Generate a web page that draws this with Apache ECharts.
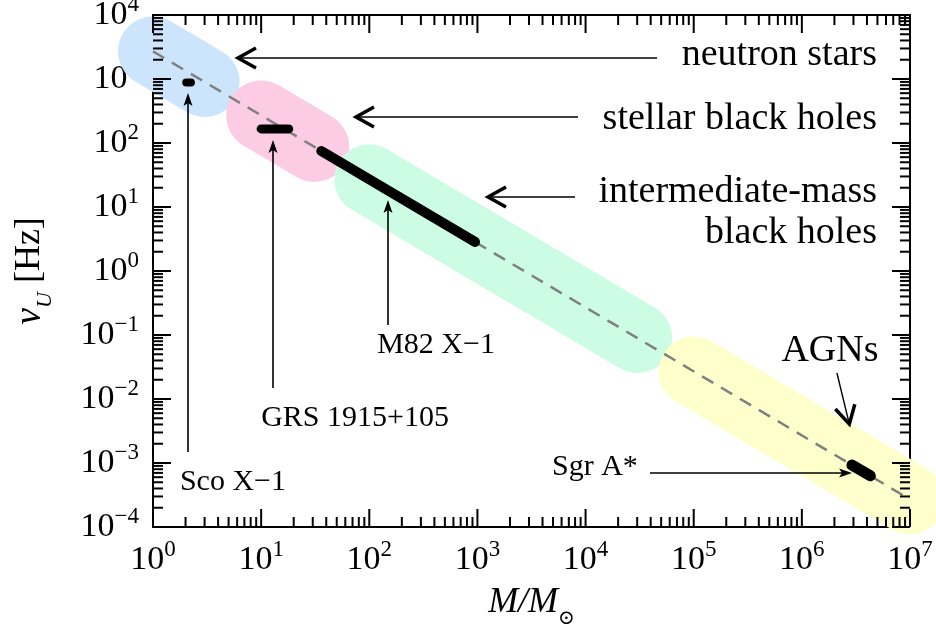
<!DOCTYPE html>
<html>
<head>
<meta charset="utf-8">
<script src="https://cdn.jsdelivr.net/npm/echarts@6/dist/echarts.min.js"></script>
<style>
  html, body { margin: 0; padding: 0; background: #fff; }
  #chart { width: 936px; height: 632px; }
</style>
</head>
<body>
<div id="chart"></div>
<script>
// QPO frequency vs mass (M in solar masses, nu in Hz)
const trendLine = [[1, 2700], [1e7, 2.7e-4]];
const neutronBand = [[1, 2700], [3, 900]];
const stellarBand = [[10, 270], [31, 87]];
const imbhBand = [[100, 27], [3e4, 0.09]];
const agnBand = [[1e5, 0.027], [1e7, 2.7e-4]];

const scoX1 = [[2.03, 880], [2.24, 880]];
const grs1915 = [[10, 166], [18, 166]];
const m82X1 = [[36, 75], [950, 2.85]];
const sgrA = [[2.9e6, 9.3e-4], [4.3e6, 6.3e-4]];

// annotation arrows (tail -> tip) and their heads
const arrowFrom = [[4.58e4, 2130], [8510, 255], [7990, 14.3], [2.11e6, 0.0255],
                   [2.107, 1.49e-3], [12.87, 0.0149], [149, 0.143], [3.94e4, 6.98e-4]];
const arrowTo = [[5.73, 2130], [70.7, 255], [1175, 14.3], [2.79e6, 3.65e-3],
                 [2.107, 604], [12.87, 111], [149, 12.9], [2.91e6, 6.98e-4]];
const arrowHeads = ['open', 'open', 'open', 'open', 'filled', 'filled', 'filled', 'filled'];

const labelText = ['neutron stars', 'stellar black holes', 'intermediate-mass', 'black holes',
                   'AGNs', 'Sco X\u22121', 'GRS 1915+105', 'M82 X\u22121', 'Sgr A*'];
const labelAt = [[4.95e6, 2371], [4.95e6, 237], [4.95e6, 17.2], [4.95e6, 3.93],
                 [1.82e6, 0.0562], [5.49, 5.05e-4], [73.8, 5.05e-3], [414, 0.0698], [1.22e4, 8.66e-4]];
const labelBig = [true, true, true, true, true, false, false, false, false];

// axis ranges and tick positions
const X_MIN = 1, X_MAX = 1e7, Y_MIN = 1e-4, Y_MAX = 1e4;
const xMajor = [1, 10, 100, 1e3, 1e4, 1e5, 1e6, 1e7];
const yMajor = [1e-4, 1e-3, 1e-2, 0.1, 1, 10, 100, 1e3, 1e4];
const minorSteps = [2, 3, 4, 5, 6, 7, 8, 9];

const SERIF = '"Liberation Serif", "DejaVu Serif", serif';

function powLabel(v) {
  const e = Math.round(Math.log10(v));
  return '{b|10}{e|' + (e < 0 ? '\u2212' + (-e) : e) + '}';
}
const tickRich = {
  b: { fontFamily: SERIF, fontSize: 34, color: '#000', lineHeight: 44 },
  e: { fontFamily: SERIF, fontSize: 23, color: '#000', lineHeight: 23, verticalAlign: 'top' }
};

function axisBase(extra) {
  return Object.assign({
    type: 'log',
    logBase: 10,
    axisLine: { show: true, onZero: false, lineStyle: { color: '#000', width: 2 } },
    axisTick: { show: false },
    minorTick: { show: false },
    splitLine: { show: false },
    minorSplitLine: { show: false }
  }, extra);
}

function band(data, color) {
  return {
    type: 'line', data: data, symbol: 'none', showSymbol: false, clip: false, silent: true, z: 1,
    lineStyle: { color: color, width: 70, cap: 'round' }
  };
}
function mark(data, width) {
  return {
    type: 'line', data: data, symbol: 'none', showSymbol: false, clip: false, silent: true, z: 3,
    lineStyle: { color: '#000', width: width, cap: 'round' }
  };
}

// one tick per item: [value, side, length]; side 0 = bottom/top pair, 1 = left/right pair
const tickItems = [];
xMajor.forEach(function (v, k) {
  tickItems.push([v, 0, 18]);
  if (k < xMajor.length - 1) minorSteps.forEach(function (m) { tickItems.push([m * v, 0, 10]); });
});
yMajor.forEach(function (v, k) {
  tickItems.push([v, 1, 18]);
  if (k < yMajor.length - 1) minorSteps.forEach(function (m) { tickItems.push([m * v, 1, 10]); });
});

const chart = echarts.init(document.getElementById('chart'));
chart.setOption({
  animation: false,
  grid: { left: 153, top: 15, right: 26, bottom: 105, containLabel: false, outerBoundsMode: 'none' },
  xAxis: [
    axisBase({
      position: 'bottom', min: X_MIN, max: X_MAX, splitNumber: 7,
      axisLabel: { interval: 0, margin: 11, formatter: powLabel, rich: tickRich },
      name: '{i|M}{i|/}{i|M}{s|\u2299}',
      nameLocation: 'middle',
      nameGap: 50,
      nameMoveOverlap: false,
      nameTextStyle: {
        rich: {
          i: { fontFamily: SERIF, fontStyle: 'italic', fontSize: 36, color: '#000', lineHeight: 52 },
          s: { fontFamily: '"DejaVu Serif", serif', fontSize: 20, color: '#000', lineHeight: 22, verticalAlign: 'bottom' }
        }
      }
    }),
    axisBase({ position: 'top', min: X_MIN, max: X_MAX, splitNumber: 7, axisLabel: { show: false } })
  ],
  yAxis: [
    axisBase({
      position: 'left', min: Y_MIN, max: Y_MAX, splitNumber: 8,
      axisLabel: { interval: 0, margin: 14, formatter: powLabel, rich: tickRich },
      name: '{i|\u03bd}{s|U}{r| [Hz]}',
      nameLocation: 'middle',
      nameGap: 97,
      nameMoveOverlap: false,
      nameTextStyle: {
        rich: {
          i: { fontFamily: SERIF, fontStyle: 'italic', fontSize: 38, color: '#000', lineHeight: 52 },
          s: { fontFamily: SERIF, fontStyle: 'italic', fontSize: 22, color: '#000', lineHeight: 22, verticalAlign: 'bottom' },
          r: { fontFamily: SERIF, fontSize: 36, color: '#000', lineHeight: 52 }
        }
      }
    }),
    axisBase({ position: 'right', min: Y_MIN, max: Y_MAX, splitNumber: 8, axisLabel: { show: false } })
  ],
  series: [
    band(neutronBand, 'rgb(204,228,252)'),
    band(stellarBand, 'rgb(252,204,228)'),
    band(imbhBand, 'rgb(204,252,228)'),
    band(agnBand, 'rgb(255,255,204)'),
    {
      type: 'line', data: trendLine, symbol: 'none', showSymbol: false, clip: true, silent: true, z: 2,
      lineStyle: { color: '#808080', width: 2.5, type: [13, 9] }
    },
    mark(scoX1, 8),
    mark(grs1915, 9),
    mark(m82X1, 10),
    mark(sgrA, 11),
    {
      type: 'custom', z: 4, clip: false, silent: true,
      data: arrowFrom.map(function (f, i) { return [f[0], f[1], arrowTo[i][0], arrowTo[i][1]]; }),
      encode: { x: [0, 2], y: [1, 3] },
      renderItem: function (params, api) {
        const i = params.dataIndex;
        const p1 = api.coord([api.value(0), api.value(1)]);
        const p2 = api.coord([api.value(2), api.value(3)]);
        const dx = p2[0] - p1[0], dy = p2[1] - p1[1];
        const len = Math.sqrt(dx * dx + dy * dy);
        const ux = dx / len, uy = dy / len, nx = -uy, ny = ux;
        const kids = [];
        if (arrowHeads[i] === 'open') {
          const tx = p2[0] - ux * 3, ty = p2[1] - uy * 3;
          const back = 18, half = 10;
          kids.push({ type: 'line', shape: { x1: p1[0], y1: p1[1], x2: tx, y2: ty },
            style: { stroke: '#000', lineWidth: 1.4 } });
          kids.push({ type: 'polyline', shape: { points: [
              [tx - ux * back + nx * half, ty - uy * back + ny * half], [tx, ty],
              [tx - ux * back - nx * half, ty - uy * back - ny * half]] },
            style: { stroke: '#000', fill: null, lineWidth: 3.5, lineJoin: 'miter' } });
        } else {
          const back = 13, half = 4.5, notch = 10;
          kids.push({ type: 'line', shape: { x1: p1[0], y1: p1[1], x2: p2[0] - ux * notch, y2: p2[1] - uy * notch },
            style: { stroke: '#000', lineWidth: 1.6 } });
          kids.push({ type: 'polygon', shape: { points: [
              [p2[0], p2[1]],
              [p2[0] - ux * back + nx * half, p2[1] - uy * back + ny * half],
              [p2[0] - ux * notch, p2[1] - uy * notch],
              [p2[0] - ux * back - nx * half, p2[1] - uy * back - ny * half]] },
            style: { fill: '#000' } });
        }
        return { type: 'group', children: kids };
      }
    },
    {
      // mirrored inside ticks, same drawing path as the arrows above
      type: 'custom', z: 4, clip: false, silent: true,
      data: tickItems.map(function (t) {
        return t[1] === 0 ? [t[0], 1, t[0], 1] : [1, t[0], 1, t[0]];
      }),
      encode: { x: [0, 2], y: [1, 3] },
      renderItem: function (params, api) {
        const t = tickItems[params.dataIndex];
        const L = t[2];
        const kids = [];
        if (t[1] === 0) {
          const pb = api.coord([api.value(0), Y_MIN]);
          const pt = api.coord([api.value(0), Y_MAX]);
          kids.push({ type: 'line', shape: { x1: pb[0], y1: pb[1], x2: pb[0], y2: pb[1] - L },
            style: { stroke: '#000', lineWidth: 2 } });
          kids.push({ type: 'line', shape: { x1: pt[0], y1: pt[1], x2: pt[0], y2: pt[1] + L },
            style: { stroke: '#000', lineWidth: 2 } });
        } else {
          const pl = api.coord([X_MIN, api.value(1)]);
          const pr = api.coord([X_MAX, api.value(1)]);
          kids.push({ type: 'line', shape: { x1: pl[0], y1: pl[1], x2: pl[0] + L, y2: pl[1] },
            style: { stroke: '#000', lineWidth: 2 } });
          kids.push({ type: 'line', shape: { x1: pr[0], y1: pr[1], x2: pr[0] - L, y2: pr[1] },
            style: { stroke: '#000', lineWidth: 2 } });
        }
        return { type: 'group', children: kids };
      }
    },
    {
      type: 'custom', z: 5, clip: false, silent: true,
      data: labelAt,
      encode: { x: 0, y: 1 },
      renderItem: function (params, api) {
        const i = params.dataIndex;
        const p = api.coord([api.value(0), api.value(1)]);
        const big = labelBig[i];
        return {
          type: 'text',
          x: p[0], y: p[1],
          style: {
            text: labelText[i],
            font: (big ? 38 : 30) + 'px ' + SERIF,
            fill: '#000',
            align: (i < 4 ? 'right' : 'center'),
            verticalAlign: 'middle'
          }
        };
      }
    }
  ]
});
</script>
</body>
</html>
